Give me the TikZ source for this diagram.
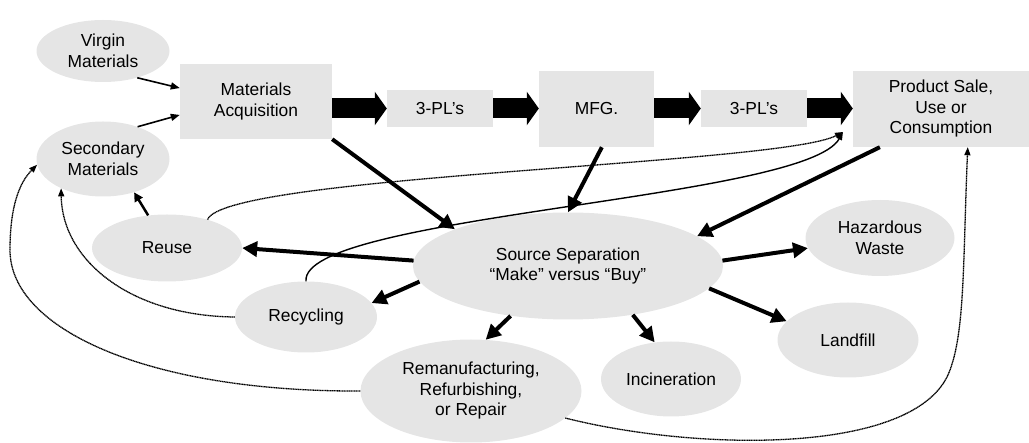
\documentclass[tikz,border=0pt]{standalone}
\usepackage{fontspec}
\setmainfont{Liberation Sans}
\usetikzlibrary{arrows.meta,shapes.geometric,calc}
\definecolor{boxfill}{HTML}{E5E5E5}

\begin{document}
\begin{tikzpicture}[x=1pt, y=-1pt,
  stage/.style={rectangle, fill=boxfill, inner sep=0pt, align=center, font=\fontsize{17.4}{20.5}\selectfont},
  outlet/.style={ellipse, fill=boxfill, inner sep=0pt, align=center, font=\fontsize{17.4}{20.5}\selectfont},
  flow/.style={line width=20pt, -{Triangle[length=12pt,width=33pt]}},
  arr/.style={line width=4pt, -{Triangle[length=15pt,width=15pt]}},
  thinarr/.style={line width=1.6pt, -{Triangle[length=9pt,width=7pt]}},
  ret/.style={line width=1.3pt, dash pattern=on 1.2pt off 0.5pt, -{Triangle[length=8pt,width=6pt]}}
]
  \useasboundingbox (0,0) rectangle (1029,443);

  % supply chain row
  \node[stage, minimum width=152pt, minimum height=75pt] (ma) at (256,101.5) {Materials\\Acquisition};
  \node[stage, minimum width=106pt, minimum height=37pt] (tpl1) at (440,108.5) {3-PL’s};
  \node[stage, minimum width=115pt, minimum height=76pt] (mfg) at (596.5,109) {MFG.};
  \node[stage, minimum width=106pt, minimum height=37pt] (tpl2) at (754,108.5) {3-PL’s};
  \node[stage, minimum width=176pt, minimum height=76pt] (prod) at (941,109) {Product Sale,\\Use or\\Consumption};

  % inputs
  \node[outlet, minimum width=133pt, minimum height=62pt] (vir) at (103,51) {Virgin\\Materials};
  \node[outlet, minimum width=133pt, minimum height=75pt] (sec) at (103,159) {Secondary\\Materials};

  % end of life
  \node[outlet, minimum width=310pt, minimum height=107pt] (ss) at (568,266) {Source Separation\\“Make” versus “Buy”};
  \node[outlet, minimum width=150pt, minimum height=67pt] (reuse) at (167,248) {Reuse};
  \node[outlet, minimum width=142pt, minimum height=71pt] (rec) at (306,317) {Recycling};
  \node[outlet, minimum width=221pt, minimum height=103pt] (rem) at (471,391) {Remanufacturing,\\Refurbishing,\\or Repair};
  \node[outlet, minimum width=140pt, minimum height=75pt] (inc) at (671,379) {Incineration};
  \node[outlet, minimum width=141pt, minimum height=75pt] (lf) at (848,340) {Landfill};
  \node[outlet, minimum width=149pt, minimum height=76pt] (haz) at (880,238) {Hazardous\\Waste};

  \coordinate (pin) at (843,132);

  \draw[flow] (ma.east |- tpl1.west) -- (tpl1.west);
  \draw[flow] (tpl1.east) -- (mfg.west |- tpl1.east);
  \draw[flow] (mfg.east |- tpl2.west) -- (tpl2.west);
  \draw[flow] (tpl2.east) -- (prod.west |- tpl2.east);

  \draw[thinarr] (vir.-38) -- (ma.170);
  \draw[thinarr] (sec.43) -- (ma.190);

  \draw[arr] (ma.south east) -- (ss.162);
  \draw[arr] (mfg.-82) -- (ss.north);
  \draw[arr] (prod.212) -- (ss.13);

  \draw[arr] (ss.178) -- (reuse.east);
  \draw[arr] (ss.186) -- (rec.12);
  \draw[arr] (ss.221) -- (rem.74);
  \draw[arr] (ss.-37) -- (inc.114);
  \draw[arr] (ss.-9) -- (lf.163);
  \draw[arr] (ss.2) -- (haz.188);

  \draw[line width=2.5pt, -{Triangle[length=9pt,width=9pt]}] (reuse.120) -- (sec.-47);

  % return loops
  \draw[ret] (reuse.35) .. controls (225,175) and (780,165) .. (pin);
  \draw[line width=1.4pt, -{Triangle[length=8pt,width=6pt]}] (rec.north) .. controls (300,215) and (805,200) .. (pin);
  \draw[ret] (rec.west) .. controls (130,316) and (62,260) .. (sec.215);
  \draw[ret] (rem.west) .. controls (150,392) and (10,330) .. (10,250) .. controls (10,205) and (20,182) .. (sec.185);
  \draw[ret] (rem.-16) .. controls (700,452) and (920,455) .. (950,370) .. controls (965,330) and (963,260) .. (prod.-55);
\end{tikzpicture}
\end{document}
